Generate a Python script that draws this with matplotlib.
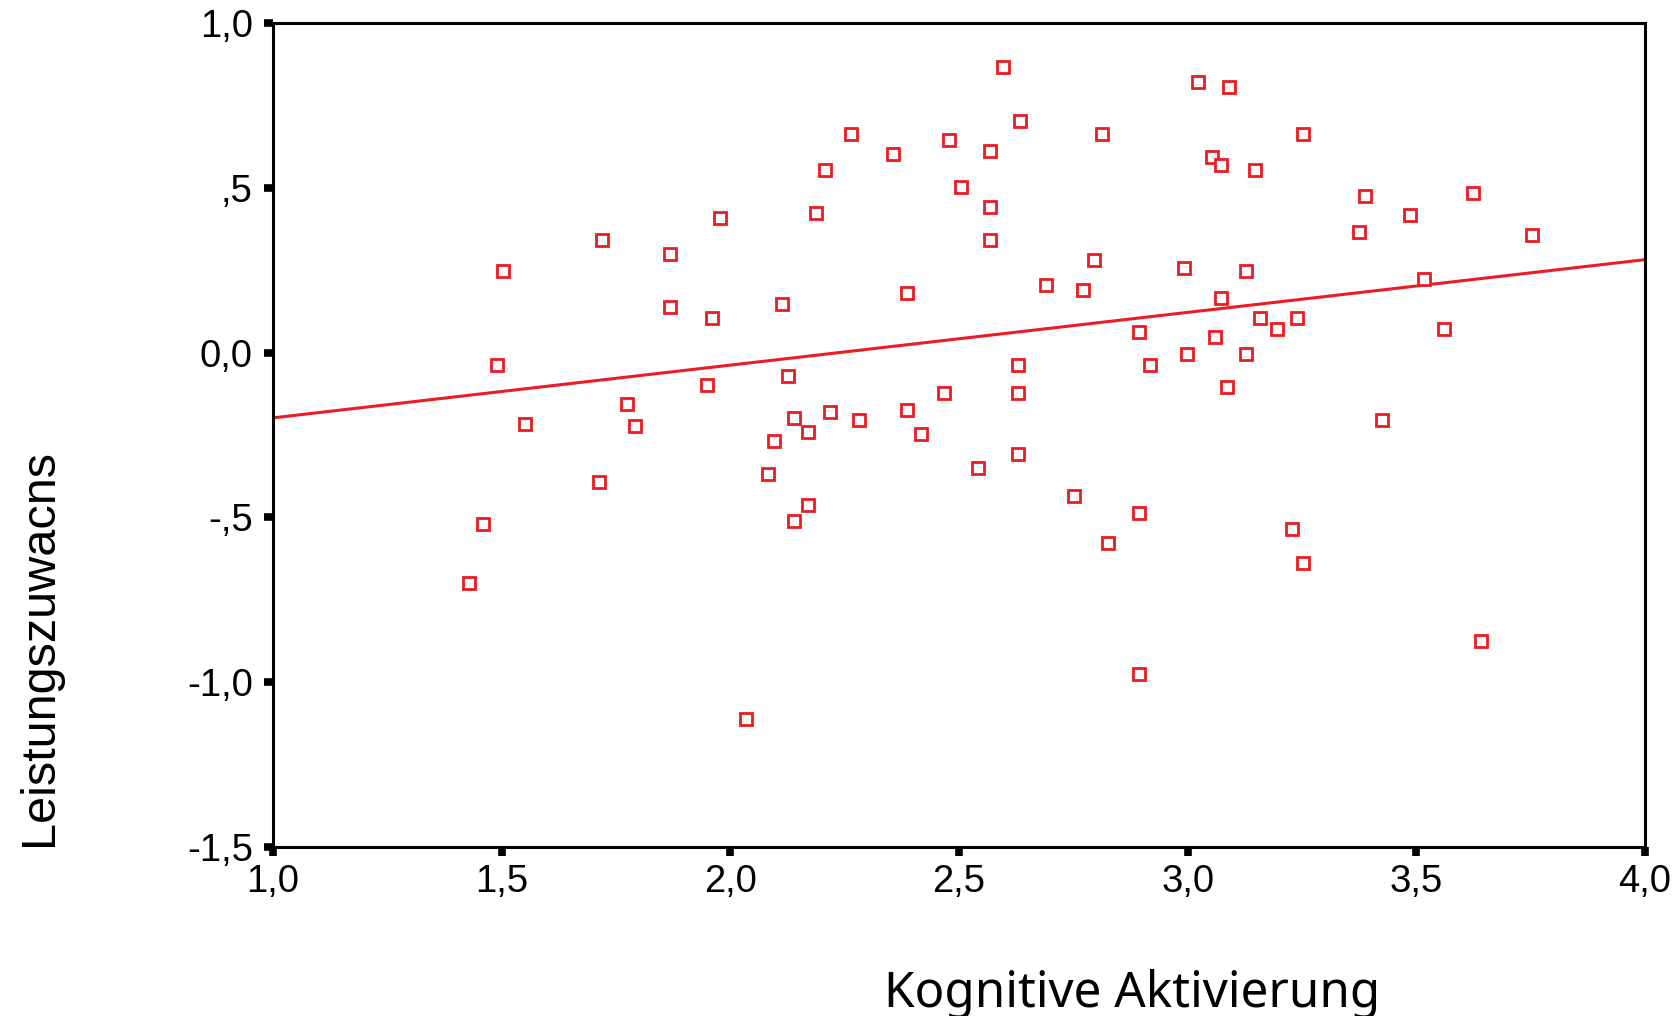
import matplotlib
matplotlib.use("Agg")
import matplotlib.pyplot as plt
import numpy as np

# Scatter data: cognitive activation vs. learning gain
kognitive_aktivierung = [
    1.502, 1.719, 1.867, 1.978, 1.867, 1.959, 1.490, 1.948, 1.773, 1.551, 1.792,
    1.713, 1.459, 1.429, 2.034,
    2.597, 2.633, 2.263, 2.813, 2.479, 2.355, 2.567, 2.207, 2.504, 2.567, 2.188,
    2.567, 2.795, 2.992, 2.690, 2.771, 2.386, 2.114, 2.893, 2.628, 2.918, 2.998,
    2.126, 2.467, 2.628, 2.219, 2.386, 2.139, 2.281, 2.170, 2.417,
    2.096, 2.083, 2.628, 2.541, 2.170, 2.139, 2.752, 2.894, 2.825, 2.894,
    3.023, 3.091, 3.252, 3.054, 3.072, 3.147, 3.623, 3.388, 3.487, 3.375, 3.753,
    3.128, 3.517, 3.072, 3.158, 3.239, 3.196, 3.561, 3.060, 3.128, 3.085, 3.425,
    3.228, 3.252, 3.641,
]
leistungszuwachs = [
    0.248, 0.342, 0.299, 0.409, 0.138, 0.105, -0.038, -0.097, -0.156, -0.216, -0.224,
    -0.393, -0.520, -0.698, -1.111,
    0.865, 0.704, 0.662, 0.662, 0.644, 0.602, 0.611, 0.553, 0.501, 0.442, 0.425,
    0.342, 0.282, 0.257, 0.206, 0.189, 0.181, 0.148, 0.063, -0.038, -0.038, -0.004,
    -0.072, -0.122, -0.122, -0.181, -0.173, -0.198, -0.206, -0.240, -0.248,
    -0.267, -0.368, -0.309, -0.350, -0.461, -0.512, -0.435, -0.486, -0.579, -0.976,
    0.822, 0.806, 0.662, 0.594, 0.569, 0.553, 0.485, 0.476, 0.417, 0.367, 0.358,
    0.248, 0.223, 0.165, 0.105, 0.105, 0.071, 0.071, 0.046, -0.004, -0.105, -0.206,
    -0.536, -0.638, -0.875,
]

# Linear fit line (values at the ends of the x range)
fit_x = [1.0, 4.0]
fit_y = [-0.198, 0.282]

x_ticks = [1.0, 1.5, 2.0, 2.5, 3.0, 3.5, 4.0]
x_tick_labels = ["1,0", "1,5", "2,0", "2,5", "3,0", "3,5", "4,0"]
y_ticks = [1.0, 0.5, 0.0, -0.5, -1.0, -1.5]
y_tick_labels = ["1,0", ",5", "0,0", "-,5", "-1,0", "-1,5"]

RED = "#ec1c24"
W, H = 1679, 1016

fig = plt.figure(figsize=(W / 100, H / 100), dpi=100)
ax = fig.add_axes([273 / W, 1 - 847 / H, 1372 / W, 824 / H])

ax.plot(fit_x, fit_y, color=RED, linewidth=2.2, zorder=2)
ax.plot(kognitive_aktivierung, leistungszuwachs, linestyle="none", marker="s",
        markersize=8.6, markerfacecolor="white", markeredgecolor=RED,
        markeredgewidth=2.0, zorder=3)

ax.set_xlim(1.0, 4.0)
ax.set_ylim(-1.5, 1.0)
ax.set_xticks(x_ticks)
ax.set_xticklabels(x_tick_labels)
ax.set_yticks(y_ticks)
ax.set_yticklabels(y_tick_labels)

for sp in ax.spines.values():
    sp.set_linewidth(2.2)
    sp.set_color("black")

ax.tick_params(axis="both", direction="out", length=6.5, width=5.5,
               color="black", labelsize=27.5)
ax.tick_params(axis="x", pad=6)
ax.tick_params(axis="y", pad=8)
for lab in ax.get_xticklabels() + ax.get_yticklabels():
    lab.set_family(["Liberation Sans", "DejaVu Sans"])

fig.text(1132 / W, 1 - 1007 / H, "Kognitive Aktivierung", ha="center",
         va="baseline", fontsize=35.5, family=["Noto Sans", "DejaVu Sans"])
fig.text(17 / W, 1 - 647 / H, "Leistungszuwacns", rotation=90, ha="left",
         va="center", fontsize=35, family=["Liberation Sans", "DejaVu Sans"])

fig.savefig("out.png", dpi=100, facecolor="white")
